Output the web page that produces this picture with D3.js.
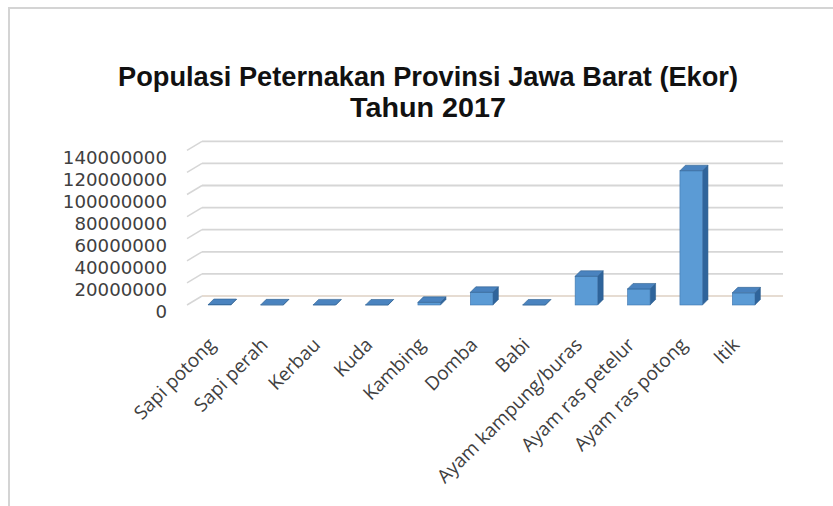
<!DOCTYPE html>
<html>
<head>
<meta charset="utf-8">
<script src="https://cdn.jsdelivr.net/npm/d3@7/dist/d3.min.js"></script>
<style>
  html, body { margin: 0; padding: 0; background: #ffffff; }
  svg { display: block; }
</style>
</head>
<body>
<svg id="chart" width="833" height="506"></svg>
<script>
// ---- data ----
const titleLines = ["Populasi  Peternakan Provinsi Jawa Barat (Ekor)", "Tahun 2017"];
const categories = ["Sapi potong", "Sapi perah", "Kerbau", "Kuda", "Kambing", "Domba", "Babi",
  "Ayam kampung/buras", "Ayam ras petelur", "Ayam ras potong", "Itik"];
const populations = [430000, 120000, 90000, 12000, 2400000, 11500000, 5000,
  26000000, 14500000, 121500000, 11000000];
const yTicks = [0, 20000000, 40000000, 60000000, 80000000, 100000000, 120000000, 140000000];

// ---- layout ----
const W = 833, H = 506;
const svg = d3.select("#chart");
const wallDX = 15, wallDY = 9;     // depth offset of back wall
const barDX = 5.5, barDY = 5.5;    // depth of bars

const y = d3.scaleLinear().domain([0, 140000000]).range([305, 150.3]);
const x = d3.scaleBand().domain(categories).range([193.4, 769.8]).paddingInner(0.57).paddingOuter(0.285);

// frame
svg.append("path")
  .attr("d", `M9,${H} L9,8 L${W},8`)
  .attr("fill", "none").attr("stroke", "#d4d4d4").attr("stroke-width", 2);

// title
const titleWidths = [620, 156];
svg.append("g").selectAll("text").data(titleLines).join("text")
  .attr("text-anchor", "middle")
  .attr("font-family", "'Liberation Sans', Arial, sans-serif")
  .attr("font-weight", "bold")
  .attr("fill", "#111")
  .attr("font-size", 27)
  .attr("x", 428)
  .attr("y", (d, i) => 86 + i * 31)
  .attr("textLength", (d, i) => titleWidths[i])
  .attr("lengthAdjust", "spacingAndGlyphs")
  .text(d => d);

// gridlines on back wall + side wall diagonals
const grid = svg.append("g");
grid.selectAll("line.back").data(yTicks).join("line")
  .attr("class", "back")
  .attr("x1", 187 + wallDX).attr("x2", 783)
  .attr("y1", d => y(d) - wallDY).attr("y2", d => y(d) - wallDY)
  .attr("stroke", d => d === 0 ? "#e6dcd2" : "#d6d6d6")
  .attr("stroke-width", 1.8);
grid.selectAll("line.side").data(yTicks).join("line")
  .attr("class", "side")
  .attr("x1", 187).attr("x2", 187 + wallDX)
  .attr("y1", d => y(d)).attr("y2", d => y(d) - wallDY)
  .attr("stroke", "#d6d6d6")
  .attr("stroke-width", 1.5);

// y axis labels
const yAxis = d3.axisLeft(y).tickValues(yTicks).tickSize(0).tickPadding(0)
  .tickFormat(d3.format("d"));
const gy = svg.append("g").attr("transform", "translate(167,7)").call(yAxis);
gy.select(".domain").remove();
gy.selectAll("text")
  .attr("font-family", "'DejaVu Sans', sans-serif")
  .attr("font-size", 18.2)
  .attr("fill", "#404040");

// bars
const bars = svg.append("g").selectAll("g").data(categories).join("g");
bars.each(function (c, i) {
  const g = d3.select(this);
  const x0 = x(c), x1 = x(c) + x.bandwidth();
  const yt = y(populations[i]), yb = y(0);
  // side
  g.append("path")
    .attr("d", `M${x1},${yt} L${x1 + barDX},${yt - barDY} L${x1 + barDX},${yb - barDY} L${x1},${yb} Z`)
    .attr("fill", "#2f649b").attr("stroke", "#2f5f8f").attr("stroke-width", 0.6);
  // front
  g.append("rect")
    .attr("x", x0).attr("y", yt).attr("width", x1 - x0).attr("height", yb - yt)
    .attr("fill", "#5b9bd5").attr("stroke", "#3f75ad").attr("stroke-width", 0.6);
  // top
  g.append("path")
    .attr("d", `M${x0},${yt} L${x0 + barDX},${yt - barDY} L${x1 + barDX},${yt - barDY} L${x1},${yt} Z`)
    .attr("fill", "#4a83bf").attr("stroke", "#2f5f8f").attr("stroke-width", 0.6);
});

// x axis labels
const xAxis = d3.axisBottom(x).tickSize(0).tickPadding(0);
const gx = svg.append("g").attr("transform", "translate(0,318)").call(xAxis);
gx.select(".domain").remove();
gx.selectAll("text")
  .attr("font-family", "'Open Sans', sans-serif")
  .attr("font-size", 19)
  .attr("fill", "#404040")
  .attr("text-anchor", "end")
  .attr("dy", 0)
  .attr("transform", "translate(-3,28) rotate(-45)");
</script>
</body>
</html>
